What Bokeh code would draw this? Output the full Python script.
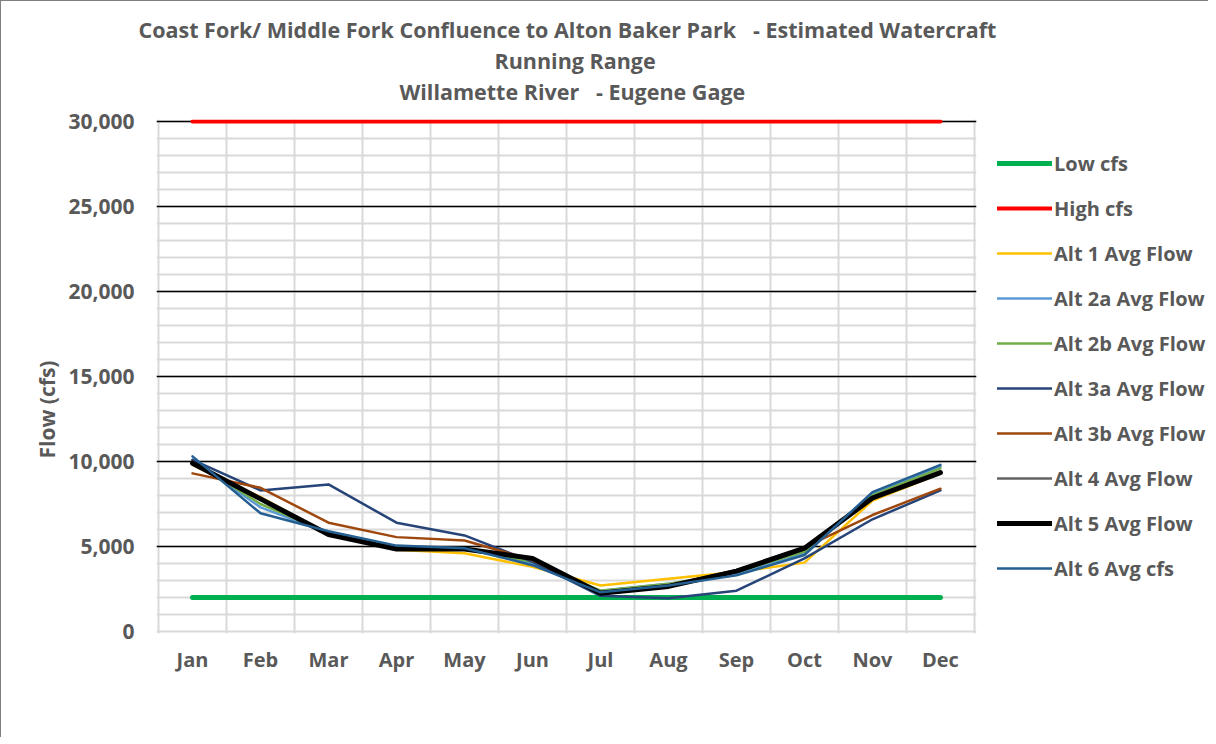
from bokeh.plotting import figure
from bokeh.layouts import row, column
from bokeh.models import FixedTicker, NumeralTickFormatter, Legend, LegendItem, Title, Range1d
from bokeh.embed import file_html
from bokeh.resources import INLINE

months = ["Jan", "Feb", "Mar", "Apr", "May", "Jun", "Jul", "Aug", "Sep", "Oct", "Nov", "Dec"]
low_cfs = [2000, 2000, 2000, 2000, 2000, 2000, 2000, 2000, 2000, 2000, 2000, 2000]
high_cfs = [30000, 30000, 30000, 30000, 30000, 30000, 30000, 30000, 30000, 30000, 30000, 30000]
alt1 = [9800, 7900, 5700, 4800, 4600, 3800, 2700, 3100, 3500, 4050, 7700, 9300]
alt2a = [10100, 7300, 5800, 5000, 4900, 4000, 2400, 2800, 3400, 4600, 8100, 9700]
alt2b = [10000, 7500, 5800, 4950, 4900, 4100, 2400, 2800, 3500, 4700, 8000, 9600]
alt3a = [10100, 8300, 8650, 6400, 5650, 4100, 2100, 1950, 2400, 4300, 6600, 8300]
alt3b = [9300, 8450, 6400, 5550, 5350, 4200, 2300, 2700, 3600, 4950, 6850, 8400]
alt4 = [9900, 7800, 5700, 4900, 4850, 4250, 2300, 2700, 3600, 4850, 7900, 9400]
alt5 = [9900, 7800, 5700, 4850, 4850, 4300, 2250, 2650, 3550, 4900, 7850, 9350]
alt6 = [10300, 6950, 5900, 5050, 4900, 3900, 2300, 2700, 3300, 4500, 8200, 9800]
y_ticks = [0, 5000, 10000, 15000, 20000, 25000, 30000]
y_minor = [0, 1000, 2000, 3000, 4000, 5000, 6000, 7000, 8000, 9000, 10000, 11000, 12000,
           13000, 14000, 15000, 16000, 17000, 18000, 19000, 20000, 21000, 22000, 23000,
           24000, 25000, 26000, 27000, 28000, 29000, 30000]

series = [
    ("Low cfs", low_cfs, "#00B050", 5),
    ("High cfs", high_cfs, "#FF0000", 4),
    ("Alt 1 Avg Flow", alt1, "#FFC000", 2.5),
    ("Alt 2a Avg Flow", alt2a, "#5B9BD5", 2.5),
    ("Alt 2b Avg Flow", alt2b, "#70AD47", 2.5),
    ("Alt 3a Avg Flow", alt3a, "#264478", 2.5),
    ("Alt 3b Avg Flow", alt3b, "#9E480E", 2.5),
    ("Alt 4 Avg Flow", alt4, "#636363", 2.5),
    ("Alt 5 Avg Flow", alt5, "#000000", 5),
    ("Alt 6 Avg cfs", alt6, "#255E91", 2.5),
]

title_lines = [
    "Coast Fork/ Middle Fork Confluence to Alton Baker Park\u00a0\u00a0 - Estimated Watercraft",
    "Running Range",
    "Willamette River\u00a0\u00a0 - Eugene Gage",
]
title_offsets = [-18, 338, 243]

FONT = "Open Sans"
GRAY = "#595959"
TOP_H = 104
TOP_B = 118 - TOP_H
BOT_B = 104

xs = list(range(len(months)))

# ---- title strip (same horizontal frame as the chart; titles stacked below a thin frame) ----
tf = figure(width=1207, height=TOP_H, output_backend="svg", toolbar_location=None,
            x_axis_location=None, y_axis_location=None,
            min_border_left=155, min_border_right=232, min_border_top=0, min_border_bottom=0)
tf.outline_line_color = None
tf.grid.visible = False
tf.background_fill_color = "white"
tf.border_fill_color = "white"
for t, off in zip(title_lines, title_offsets):
    tf.add_layout(Title(text=t, align="left", offset=off, text_font=FONT, text_font_style="bold",
                        text_color=GRAY, text_font_size="21.5px", standoff=0), "below")

# ---- chart ----
p = figure(width=980, height=736 - TOP_H, output_backend="svg", toolbar_location=None,
           x_range=Range1d(-0.53, len(months) - 0.47), y_range=Range1d(-120, 30120),
           min_border_left=155, min_border_right=5, min_border_top=TOP_B,
           min_border_bottom=BOT_B)
p.outline_line_color = None
p.background_fill_color = "white"
p.border_fill_color = "white"

p.xaxis.ticker = FixedTicker(ticks=xs)
p.xaxis.major_label_overrides = {i: m for i, m in zip(xs, months)}
p.yaxis.ticker = FixedTicker(ticks=y_ticks)
p.yaxis.formatter = NumeralTickFormatter(format="0,0")
for ax in (p.xaxis[0], p.yaxis[0]):
    ax.axis_line_color = None
    ax.major_tick_line_color = None
    ax.minor_tick_line_color = None
    ax.major_tick_out = 0
    ax.minor_tick_out = 0
    ax.major_label_text_font = FONT
    ax.major_label_text_font_style = "bold"
    ax.major_label_text_color = GRAY
    ax.major_label_text_font_size = "20px"
p.yaxis.major_label_text_font_size = "21px"
p.xaxis.major_label_standoff = 12
p.yaxis.major_label_standoff = 22

p.xgrid.ticker = FixedTicker(ticks=[x - 0.5 for x in xs] + [len(months) - 0.5])
p.xgrid.grid_line_color = "#d9d9d9"
p.xgrid.grid_line_width = 2
p.ygrid.ticker = FixedTicker(ticks=y_ticks[1:], minor_ticks=y_minor)
p.ygrid.grid_line_color = "#000000"
p.ygrid.grid_line_width = 1.5
p.ygrid.minor_grid_line_color = "#d9d9d9"
p.ygrid.minor_grid_line_width = 2

for name, vals, color, w in series:
    p.line(xs, vals, line_color=color, line_width=w, line_join="round", line_cap="round")

p.add_layout(Title(text="Flow (cfs)", align="left", offset=175, text_font=FONT,
                   text_font_style="bold", text_color=GRAY, text_font_size="21px",
                   standoff=10), "left")

# ---- legend panel ----
lg = figure(width=227, height=736 - TOP_H, output_backend="svg", toolbar_location=None,
            x_axis_location=None, y_axis_location=None,
            x_range=Range1d(100, 101), y_range=Range1d(100000, 100001),
            min_border_left=0, min_border_right=0, min_border_top=TOP_B,
            min_border_bottom=BOT_B)
lg.outline_line_color = None
lg.grid.visible = False
lg.background_fill_color = "white"
lg.border_fill_color = "white"
items = []
for name, vals, color, w in series:
    r = lg.line(xs, vals, line_color=color, line_width=w, line_join="round", line_cap="round")
    items.append(LegendItem(label=name, renderers=[r]))
legend = Legend(items=items, location=(16, 51), orientation="vertical",
                label_text_font=FONT, label_text_font_style="bold", label_text_color=GRAY,
                label_text_font_size="20px", glyph_width=55, glyph_height=28, label_height=28,
                label_standoff=2, spacing=17, padding=0, margin=0,
                border_line_color=None, background_fill_alpha=0)
lg.add_layout(legend)

layout = column(tf, row(p, lg))
layout.styles = {"border-left": "1px solid #7f7f7f", "border-top": "1px solid #7f7f7f"}

open("out.html", "w").write(file_html(layout, INLINE))
